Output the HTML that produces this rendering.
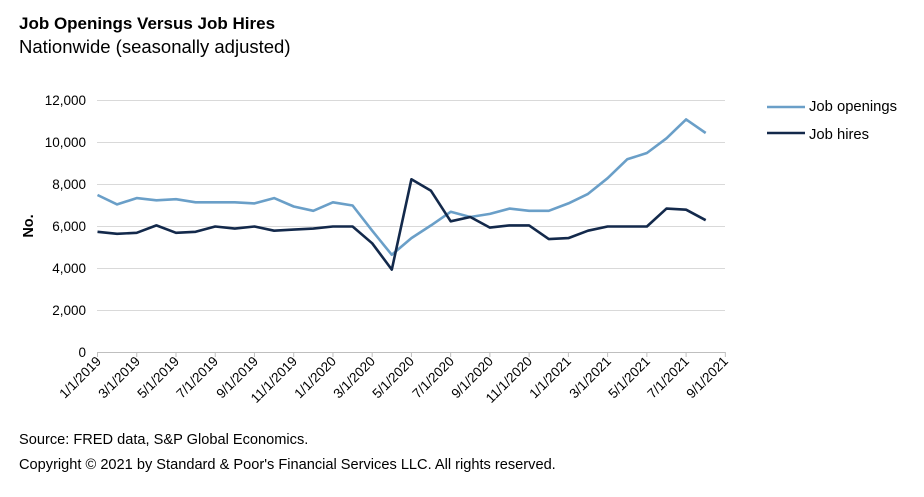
<!DOCTYPE html>
<html><head><meta charset="utf-8"><style>
body{margin:0;background:#fff;width:924px;height:492px;overflow:hidden;font-family:"Liberation Sans",Arial,sans-serif;}
</style></head><body>
<svg width="924" height="492" xmlns="http://www.w3.org/2000/svg" font-family="Liberation Sans, Arial, sans-serif">
<text x="19" y="29" font-size="17" font-weight="bold" fill="#000">Job Openings Versus Job Hires</text>
<text x="19" y="53" font-size="18.5" fill="#000">Nationwide (seasonally adjusted)</text>
<g stroke="#d9d9d9" stroke-width="1">
<line x1="97" x2="725" y1="100.5" y2="100.5"/><line x1="97" x2="725" y1="142.5" y2="142.5"/><line x1="97" x2="725" y1="184.5" y2="184.5"/><line x1="97" x2="725" y1="226.5" y2="226.5"/><line x1="97" x2="725" y1="268.5" y2="268.5"/><line x1="97" x2="725" y1="310.5" y2="310.5"/>
</g>
<line x1="97" x2="725" y1="352.5" y2="352.5" stroke="#bfbfbf"/>
<g id="ticks" stroke="#bfbfbf"></g>
<g font-size="13.5" fill="#000" text-anchor="end">
<text x="86" y="105">12,000</text><text x="86" y="147">10,000</text><text x="86" y="189">8,000</text><text x="86" y="231">6,000</text><text x="86" y="273">4,000</text><text x="86" y="315">2,000</text><text x="86" y="357">0</text>
</g>
<text transform="translate(33,226) rotate(-90)" font-size="14.5" font-weight="bold" text-anchor="middle">No.</text>
<g font-size="13.5" text-anchor="end">
<text transform="translate(102,362) rotate(-45)">1/1/2019</text>
<text transform="translate(141,362) rotate(-45)">3/1/2019</text>
<text transform="translate(180,362) rotate(-45)">5/1/2019</text>
<text transform="translate(219,362) rotate(-45)">7/1/2019</text>
<text transform="translate(259,362) rotate(-45)">9/1/2019</text>
<text transform="translate(298,362) rotate(-45)">11/1/2019</text>
<text transform="translate(337,362) rotate(-45)">1/1/2020</text>
<text transform="translate(376,362) rotate(-45)">3/1/2020</text>
<text transform="translate(415,362) rotate(-45)">5/1/2020</text>
<text transform="translate(455,362) rotate(-45)">7/1/2020</text>
<text transform="translate(494,362) rotate(-45)">9/1/2020</text>
<text transform="translate(533,362) rotate(-45)">11/1/2020</text>
<text transform="translate(572,362) rotate(-45)">1/1/2021</text>
<text transform="translate(612,362) rotate(-45)">3/1/2021</text>
<text transform="translate(651,362) rotate(-45)">5/1/2021</text>
<text transform="translate(690,362) rotate(-45)">7/1/2021</text>
<text transform="translate(729,362) rotate(-45)">9/1/2021</text>
</g>
<path id="op" fill="none" stroke="#6a9fc8" stroke-width="2.6" stroke-linejoin="round"/>
<path id="hi" fill="none" stroke="#13294b" stroke-width="2.6" stroke-linejoin="round"/>
<line x1="767" x2="805" y1="107" y2="107" stroke="#6a9fc8" stroke-width="2.6"/>
<text x="809" y="111" font-size="14.8">Job openings</text>
<line x1="767" x2="805" y1="133" y2="133" stroke="#13294b" stroke-width="2.6"/>
<text x="809" y="139" font-size="14.8">Job hires</text>
<text x="19" y="444" font-size="14.6">Source: FRED data, S&amp;P Global Economics.</text>
<text x="19" y="469" font-size="14.6">Copyright © 2021 by Standard &amp; Poor's Financial Services LLC. All rights reserved.</text>
</svg>
<script>
var op=[7500,7050,7350,7250,7300,7150,7150,7150,7100,7350,6950,6750,7150,7000,5800,4650,5450,6050,6700,6450,6600,6850,6750,6750,7100,7550,8300,9200,9500,10200,11100,10450];
var hi=[5750,5650,5700,6050,5700,5750,6000,5900,6000,5800,5850,5900,6000,6000,5200,3950,8250,7700,6250,6450,5950,6050,6050,5400,5450,5800,6000,6000,6000,6850,6800,6300];
function p(a){return a.map(function(v,i){return (i?'L':'M')+(97.5+i*19.62).toFixed(1)+','+(352.5-v*0.021).toFixed(1)}).join('');}
document.getElementById('op').setAttribute('d',p(op));
document.getElementById('hi').setAttribute('d',p(hi));
var t='';for(var i=0;i<=16;i++){var x=97.5+i*39.24;t+='<line x1="'+x+'" x2="'+x+'" y1="352" y2="357"/>';}
document.getElementById('ticks').innerHTML=t;
</script>
</body></html>
